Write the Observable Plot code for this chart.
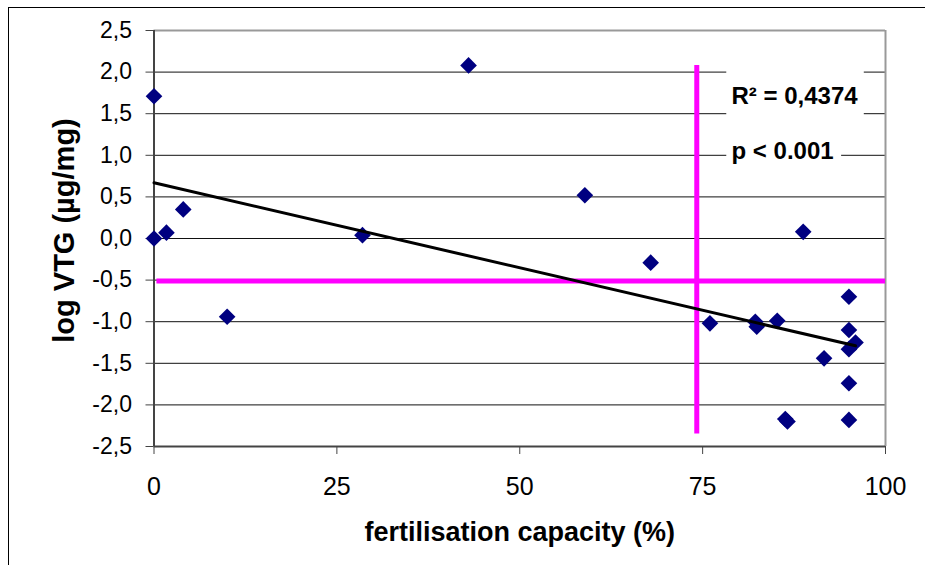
<!DOCTYPE html>
<html>
<head>
<meta charset="utf-8">
<script src="https://cdn.jsdelivr.net/npm/d3@7"></script>
<script src="https://cdn.jsdelivr.net/npm/@observablehq/plot@0.6"></script>
<style>
  html, body { margin: 0; padding: 0; background: #fff; }
  body { width: 925px; height: 565px; overflow: hidden; position: relative; font-family: "Liberation Sans", Arial, sans-serif; }
  #outer { position: absolute; left: 8px; top: 7px; width: 1000px; height: 1000px; border: 1.5px solid #000; pointer-events: none; }
  #chart { position: absolute; left: 0; top: 0; }
</style>
</head>
<body>
<div id="chart"></div>
<div id="outer"></div>
<script>
// Data
const fertilisation = [0, 0, 1.7, 4.0, 10.0, 28.5, 43.0, 58.9, 67.9, 88.75, 76.0, 82.2, 82.4, 85.2, 95.0, 95.0, 95.9, 95.0, 91.6, 95.0, 95.0, 86.3, 86.6];
const logVTG = [1.71, 0.0, 0.07, 0.35, -0.94, 0.04, 2.08, 0.52, -0.29, 0.08, -1.02, -1.0, -1.06, -0.99, -0.70, -1.10, -1.25, -1.33, -1.44, -1.74, -2.18, -2.17, -2.20];

const trendX = [0, 95.9];
const trendY = [0.67, -1.29];

const thresholdY = -0.51;   // horizontal magenta line
const thresholdX = 74.2;    // vertical magenta line
const thresholdXRange = [-2.35, 2.08];

const xTicks = [0, 25, 50, 75, 100];
const yTicks = [-2.5, -2, -1.5, -1, -0.5, 0, 0.5, 1, 1.5, 2, 2.5];
const gridValues = [-2, -1.5, -1, -0.5, 0, 0.5, 1, 1.5, 2];

const xLabel = "fertilisation capacity (%)";
const yLabel = "log VTG (µg/mg)";
const statLabels = ["R² = 0,4374", "p < 0.001"];

const points = fertilisation.map((x, i) => ({x, y: logVTG[i]}));
const trend = trendX.map((x, i) => ({x, y: trendY[i]}));
const fmt = d => d.toFixed(1).replace(".", ",");

const chart = Plot.plot({
  width: 925,
  height: 565,
  marginLeft: 153.5,
  marginRight: 40,
  marginTop: 30,
  marginBottom: 119,
  style: {fontFamily: "'Liberation Sans', Arial, sans-serif", color: "#000", background: "transparent"},
  x: {domain: [0, 100]},
  y: {domain: [-2.5, 2.5]},
  marks: [
    Plot.ruleY(gridValues, {stroke: "#111", strokeWidth: 1}),
    // boxes behind statistics text
    Plot.rect([statLabels[0]], {x1: 78.3, x2: 97.1, y1: 1.35, y2: 2.15, fill: "white"}),
    Plot.rect([statLabels[1]], {x1: 78.3, x2: 94.0, y1: 0.75, y2: 1.3, fill: "white"}),
    Plot.ruleY([2.5], {stroke: "#999", strokeWidth: 2}),
    Plot.ruleX([100], {stroke: "#999", strokeWidth: 2}),
    Plot.ruleY([-2.5], {stroke: "#444", strokeWidth: 2}),
    Plot.ruleX([0], {stroke: "#444", strokeWidth: 2}),
    Plot.axisY({ticks: yTicks, tickFormat: fmt, tickSize: 8, tickPadding: 14, fontSize: 23, stroke: "#444", label: null}),
    Plot.axisX({ticks: xTicks, tickSize: 8, tickPadding: 23, fontSize: 25, stroke: "#444", label: null}),
    Plot.ruleY([thresholdY], {x1: 0.4, x2: 100, stroke: "#FF00FF", strokeWidth: 5}),
    Plot.ruleX([thresholdX], {y1: thresholdXRange[0], y2: thresholdXRange[1], stroke: "#FF00FF", strokeWidth: 5}),
    Plot.dot(points, {x: "x", y: "y", symbol: "diamond2", r: 7.5, fill: "#000080", stroke: "none"}),
    Plot.line(trend, {x: "x", y: "y", stroke: "#000", strokeWidth: 3}),
    Plot.text([statLabels[0]], {x: 78.95, y: 1.704, text: d => d, textAnchor: "start", lineAnchor: "middle", fontSize: 24, fontWeight: "bold"}),
    Plot.text([statLabels[1]], {x: 78.95, y: 1.042, text: d => d, textAnchor: "start", lineAnchor: "middle", fontSize: 24, fontWeight: "bold"}),
    Plot.text([xLabel], {frameAnchor: "bottom", dy: 86, lineAnchor: "middle", textAnchor: "middle", text: d => d, fontSize: 27, fontWeight: "bold"}),
    Plot.text([yLabel], {frameAnchor: "left", dx: -89, dy: -8, rotate: -90, textAnchor: "middle", lineAnchor: "middle", text: d => d, fontSize: 29, fontWeight: "bold"})
  ]
});
document.getElementById("chart").appendChild(chart);
</script>
</body>
</html>
